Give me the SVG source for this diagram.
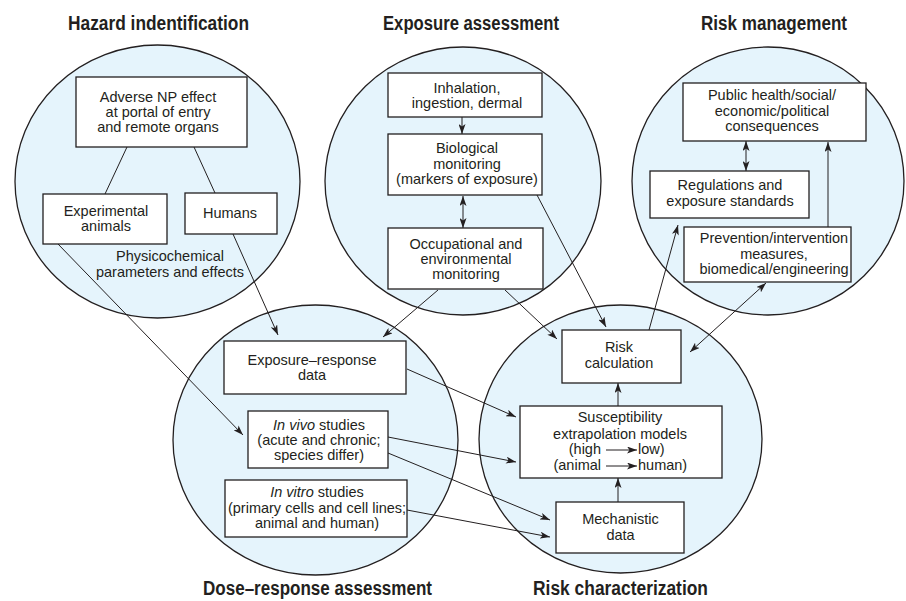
<svg xmlns="http://www.w3.org/2000/svg" width="906" height="601" viewBox="0 0 906 601">
<style>
.area{fill:#e5f4fc;stroke:#231f20;stroke-width:1.3}
.box{fill:#ffffff;stroke:#231f20;stroke-width:1.3}
.t{font-family:"Liberation Sans",Arial,sans-serif;font-size:14.5px;fill:#231f20;text-anchor:middle}
.ttl{font-family:"Liberation Sans",Arial,sans-serif;font-size:19.5px;font-weight:bold;fill:#231f20;text-anchor:middle}
.c{fill:none;stroke:#231f20;stroke-width:1}
.a{marker-end:url(#ah)}
.b{marker-start:url(#ah);marker-end:url(#ah)}
</style>
<defs>
<marker id="ah" viewBox="0 0 10 7" refX="10" refY="3.5" markerWidth="10" markerHeight="7" markerUnits="userSpaceOnUse" orient="auto-start-reverse">
<path d="M0,0 L10,3.5 L0,7 L2.5,3.5 z" fill="#231f20"/>
</marker>
</defs>
<rect width="906" height="601" fill="#ffffff"/>

<g id="areas">
<g id="hazard-identification"><ellipse class="area" cx="157.5" cy="181.5" rx="142.5" ry="136.5"/><text class="ttl" x="158.5" y="30" textLength="181" lengthAdjust="spacingAndGlyphs">Hazard indentification</text></g>
<g id="exposure-assessment"><ellipse class="area" cx="463" cy="181" rx="138" ry="134"/><text class="ttl" x="471" y="30" textLength="176" lengthAdjust="spacingAndGlyphs">Exposure assessment</text></g>
<g id="risk-management"><ellipse class="area" cx="768" cy="181" rx="136" ry="134"/><text class="ttl" x="774" y="30" textLength="146" lengthAdjust="spacingAndGlyphs">Risk management</text></g>
<g id="dose-response-assessment"><ellipse class="area" cx="315.5" cy="440" rx="142.5" ry="135"/><text class="ttl" x="317.5" y="595" textLength="229" lengthAdjust="spacingAndGlyphs">Dose–response assessment</text></g>
<g id="risk-characterization"><ellipse class="area" cx="620.5" cy="439" rx="141.5" ry="134"/><text class="ttl" x="620.5" y="595" textLength="175" lengthAdjust="spacingAndGlyphs">Risk characterization</text></g>
</g>

<g id="connectors">
<line class="c" x1="127" y1="147" x2="105" y2="194"/>
<line class="c" x1="194" y1="147" x2="215" y2="193"/>
<line class="c a" x1="58" y1="244" x2="243" y2="435"/>
<line class="c a" x1="233" y1="234" x2="278" y2="335"/>
<line class="c a" x1="462" y1="117" x2="462" y2="134"/>
<line class="c b" x1="463" y1="196" x2="463" y2="228"/>
<line class="c a" x1="438" y1="290" x2="383" y2="337"/>
<line class="c a" x1="505" y1="290" x2="557" y2="339"/>
<line class="c a" x1="537" y1="195" x2="606" y2="327"/>
<line class="c a" x1="649" y1="330" x2="678" y2="225"/>
<line class="c b" x1="690" y1="352" x2="766" y2="283"/>
<line class="c b" x1="746" y1="141" x2="746" y2="171"/>
<line class="c a" x1="828" y1="227" x2="828" y2="142"/>
<line class="c a" x1="407" y1="369" x2="516" y2="417"/>
<line class="c a" x1="388" y1="437" x2="516" y2="462"/>
<line class="c a" x1="388" y1="453" x2="550" y2="520"/>
<line class="c a" x1="407" y1="510" x2="550" y2="537"/>
<line class="c a" x1="618" y1="502" x2="618" y2="478"/>
<line class="c a" x1="618" y1="406" x2="618" y2="383"/>
</g>

<g id="adverse-effect"><rect class="box" x="76" y="77" width="171" height="70"/>
<text class="t" x="158" y="102">Adverse NP effect</text><text class="t" x="158" y="117">at portal of entry</text><text class="t" x="158" y="132">and remote organs</text></g>
<g id="experimental-animals"><rect class="box" x="43" y="194" width="124" height="50"/>
<text class="t" x="106" y="216">Experimental</text><text class="t" x="106" y="231">animals</text></g>
<g id="humans"><rect class="box" x="185" y="193" width="92" height="41"/>
<text class="t" x="230" y="218">Humans</text></g>
<g id="physicochemical"><text class="t" x="170" y="261">Physicochemical</text><text class="t" x="170" y="277">parameters and effects</text></g>

<g id="inhalation"><rect class="box" x="388" y="73" width="154" height="44"/>
<text class="t" x="467" y="93">Inhalation,</text><text class="t" x="467" y="108">ingestion, dermal</text></g>
<g id="biological-monitoring"><rect class="box" x="388" y="134" width="154" height="61"/>
<text class="t" x="467" y="153">Biological</text><text class="t" x="467" y="168.5">monitoring</text><text class="t" x="467" y="184">(markers of exposure)</text></g>
<g id="occupational-monitoring"><rect class="box" x="388" y="228" width="155" height="61"/>
<text class="t" x="466" y="248.5">Occupational and</text><text class="t" x="466" y="263.5">environmental</text><text class="t" x="466" y="278.5">monitoring</text></g>

<g id="public-health"><rect class="box" x="683" y="83" width="183" height="58"/>
<text class="t" x="772" y="100">Public health/social/</text><text class="t" x="772" y="115.5">economic/political</text><text class="t" x="772" y="131">consequences</text></g>
<g id="regulations"><rect class="box" x="650" y="171" width="159" height="47"/>
<text class="t" x="730" y="190">Regulations and</text><text class="t" x="730" y="205.5">exposure standards</text></g>
<g id="prevention"><rect class="box" x="684" y="227" width="167" height="55"/>
<text class="t" x="774" y="243">Prevention/intervention</text><text class="t" x="774" y="258.5">measures,</text><text class="t" x="774" y="274">biomedical/engineering</text></g>

<g id="exposure-response"><rect class="box" x="224" y="341" width="182" height="53"/>
<text class="t" x="312" y="365">Exposure–response</text><text class="t" x="312" y="380">data</text></g>
<g id="in-vivo"><rect class="box" x="248" y="411" width="140" height="57"/>
<text class="t" x="319" y="429.5"><tspan font-style="italic">In vivo</tspan> studies</text><text class="t" x="319" y="445">(acute and chronic;</text><text class="t" x="319" y="460">species differ)</text></g>
<g id="in-vitro"><rect class="box" x="225" y="480" width="182" height="57"/>
<text class="t" x="317" y="497"><tspan font-style="italic">In vitro</tspan> studies</text><text class="t" x="317" y="512.5">(primary cells and cell lines;</text><text class="t" x="317" y="527.5">animal and human)</text></g>

<g id="risk-calculation"><rect class="box" x="562" y="330" width="119" height="53"/>
<text class="t" x="619" y="352">Risk</text><text class="t" x="619" y="367.5">calculation</text></g>
<g id="susceptibility"><rect class="box" x="520" y="406" width="202" height="72"/>
<text class="t" x="620" y="422">Susceptibility</text><text class="t" x="620" y="438.5">extrapolation models</text>
<text class="t" x="601" y="454" style="text-anchor:end">(high</text><line class="c a" x1="606" y1="450" x2="637" y2="450"/><text class="t" x="638" y="454" style="text-anchor:start">low)</text>
<text class="t" x="601" y="470" style="text-anchor:end">(animal</text><line class="c a" x1="606" y1="466" x2="637" y2="466"/><text class="t" x="638" y="470" style="text-anchor:start">human)</text></g>
<g id="mechanistic-data"><rect class="box" x="556" y="502" width="128" height="51"/>
<text class="t" x="620.5" y="523.5">Mechanistic</text><text class="t" x="620.5" y="539.5">data</text></g>
</svg>
